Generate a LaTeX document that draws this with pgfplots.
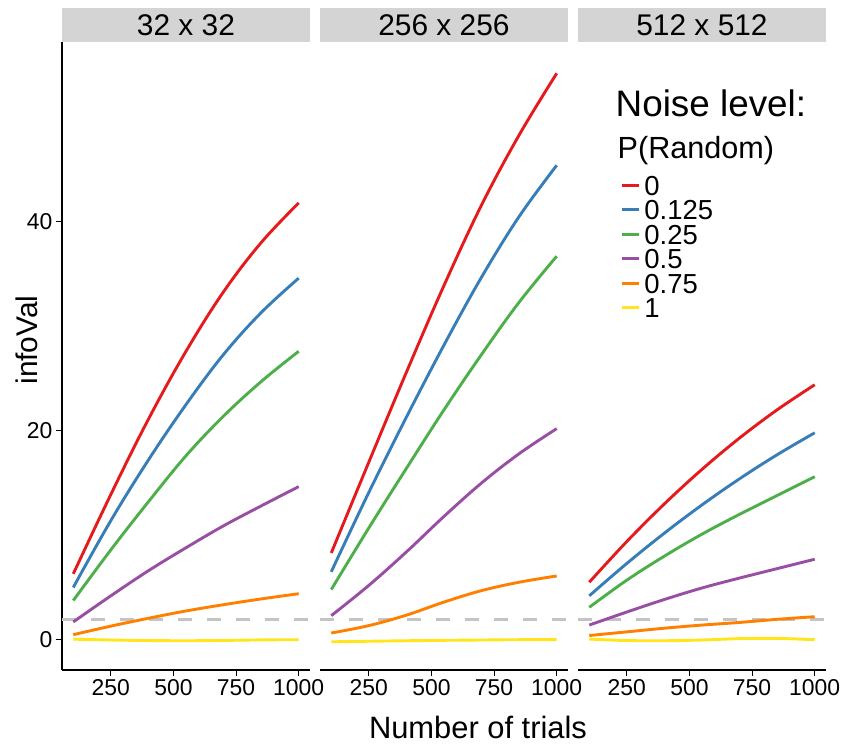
\documentclass[border=0pt]{standalone}
\usepackage{pgfplots}
\pgfplotsset{compat=1.18}
\usepackage{fontspec}
\setmainfont{Liberation Sans}
\definecolor{cR}{HTML}{E41A1C}
\definecolor{cB}{HTML}{377EB8}
\definecolor{cG}{HTML}{4DAF4A}
\definecolor{cP}{HTML}{984EA3}
\definecolor{cO}{HTML}{FF7F00}
\definecolor{cY}{HTML}{FFE519}
\definecolor{stripgray}{RGB}{212,212,212}
\definecolor{dashgray}{RGB}{196,196,196}
\begin{document}
\begin{tikzpicture}
\useasboundingbox (0,0) rectangle (843bp,747bp);
\pgfplotsset{
  panel/.style={
    scale only axis, width=248bp, height=628bp,
    anchor=south west,
    xmin=55, xmax=1045, ymin=-2.9, ymax=57.2,
    xtick={250,500,750,1000}, ytick={0,20,40},
    tick align=outside, major tick length=6bp,
    every tick/.style={black, line width=1bp},
    axis line style={black, line width=1.3bp, -},
    ticklabel style={font=\fontsize{23}{23}\selectfont},
    /pgf/number format/assume math mode=true,
    /pgf/number format/1000 sep={},
    axis x line*=bottom,
    every axis plot/.append style={line width=2.9bp, smooth, tension=0.6},
  },
  hline/.style={forget plot, sharp plot, color=dashgray, line width=3bp, dash pattern=on 14bp off 15bp},
}
% strips
\fill[stripgray] (62bp,705bp) rectangle (310bp,739bp);
\fill[stripgray] (320bp,705bp) rectangle (568bp,739bp);
\fill[stripgray] (578bp,705bp) rectangle (826bp,739bp);
\node[anchor=base, inner sep=0pt, font=\fontsize{30}{30}\selectfont] at (186bp,711.5bp) {32 x 32};
\node[anchor=base, inner sep=0pt, font=\fontsize{30}{30}\selectfont] at (444bp,711.5bp) {256 x 256};
\node[anchor=base, inner sep=0pt, font=\fontsize{30}{30}\selectfont] at (702bp,711.5bp) {512 x 512};

% panel 1
\begin{axis}[panel, at={(62bp,77bp)}, axis y line*=left,
  ylabel={infoVal}, ylabel style={at={(axis description cs:-0.1008,0.5255)}, anchor=base, inner sep=0pt, font=\fontsize{30}{30}\selectfont}]
\addplot[hline] coordinates {(55,1.9) (1045,1.9)};
\addplot[cR] coordinates {(100,6.3) (250,13.9) (400,21.1) (550,27.6) (700,33.3) (850,38.0) (1000,41.8)};
\addplot[cB] coordinates {(100,5.0) (250,11.4) (400,17.2) (550,22.5) (700,27.3) (850,31.3) (1000,34.6)};
\addplot[cG] coordinates {(100,3.75) (250,8.6) (400,13.2) (550,17.6) (700,21.4) (850,24.7) (1000,27.6)};
\addplot[cP] coordinates {(100,1.7) (250,4.2) (400,6.6) (550,8.8) (700,10.9) (850,12.8) (1000,14.65)};
\addplot[cO] coordinates {(100,0.48) (250,1.3) (400,2.05) (550,2.75) (700,3.35) (850,3.9) (1000,4.4)};
\addplot[cY] coordinates {(100,0.05) (250,-0.03) (400,-0.08) (550,-0.1) (700,-0.07) (850,-0.02) (1000,0.0)};
\end{axis}

% panel 2
\begin{axis}[panel, at={(320bp,77bp)}, axis y line=none, ytick=\empty]
\addplot[hline] coordinates {(55,1.9) (1045,1.9)};
\addplot[cR] coordinates {(100,8.3) (250,17.0) (400,25.6) (550,33.9) (700,41.6) (850,48.3) (1000,54.2)};
\addplot[cB] coordinates {(100,6.5) (250,14.1) (400,21.3) (550,28.2) (700,34.7) (850,40.5) (1000,45.4)};
\addplot[cG] coordinates {(100,4.8) (250,10.7) (400,16.4) (550,22.0) (700,27.3) (850,32.3) (1000,36.7)};
\addplot[cP] coordinates {(100,2.3) (250,5.2) (400,8.4) (550,11.8) (700,15.0) (850,17.8) (1000,20.2)};
\addplot[cO] coordinates {(100,0.64) (250,1.35) (400,2.35) (550,3.6) (700,4.7) (850,5.5) (1000,6.1)};
\addplot[cY] coordinates {(100,-0.2) (250,-0.15) (400,-0.1) (550,-0.06) (700,-0.03) (850,0.0) (1000,0.0)};
\end{axis}

% panel 3
\begin{axis}[panel, at={(578bp,77bp)}, axis y line=none, ytick=\empty,
  legend style={at={(axis description cs:0.171,0.788)}, anchor=north west,
    draw=none, fill=none, inner sep=0pt, outer sep=0pt,
    font=\fontsize{27.6}{27.6}\selectfont, row sep=4.5bp,
    nodes={inner sep=0pt, text height=20bp, text depth=0bp},
    /tikz/every odd column/.append style={column sep=3.5bp}},
  legend cell align=left,
  legend image code/.code={\draw[#1, sharp plot] (0bp,0bp) -- (17.6bp,0bp);}]
\addplot[hline] coordinates {(55,1.9) (1045,1.9)};
\addplot[cR] coordinates {(100,5.5) (250,9.4) (400,13.0) (550,16.3) (700,19.3) (850,22.0) (1000,24.4)};
\addlegendentry{0}
\addplot[cB] coordinates {(100,4.2) (250,7.3) (400,10.2) (550,12.9) (700,15.4) (850,17.7) (1000,19.8)};
\addlegendentry{0.125}
\addplot[cG] coordinates {(100,3.1) (250,5.7) (400,8.0) (550,10.1) (700,12.0) (850,13.8) (1000,15.6)};
\addlegendentry{0.25}
\addplot[cP] coordinates {(100,1.4) (250,2.65) (400,3.85) (550,4.95) (700,5.9) (850,6.8) (1000,7.7)};
\addlegendentry{0.5}
\addplot[cO] coordinates {(100,0.4) (250,0.75) (400,1.1) (550,1.4) (700,1.65) (850,1.95) (1000,2.2)};
\addlegendentry{0.75}
\addplot[cY] coordinates {(100,0.06) (250,-0.08) (400,-0.1) (550,-0.03) (700,0.1) (850,0.12) (1000,0.0)};
\addlegendentry{1}
\end{axis}

\node[anchor=base west, inner sep=0pt, font=\fontsize{37}{37}\selectfont] at (615.5bp,630bp) {Noise level:};
\node[anchor=base west, inner sep=0pt, font=\fontsize{30.7}{30.7}\selectfont] at (617.5bp,588bp) {P(Random)};
\node[anchor=base, inner sep=0pt, font=\fontsize{31}{31}\selectfont] at (478bp,9bp) {Number of trials};
\end{tikzpicture}
\end{document}
